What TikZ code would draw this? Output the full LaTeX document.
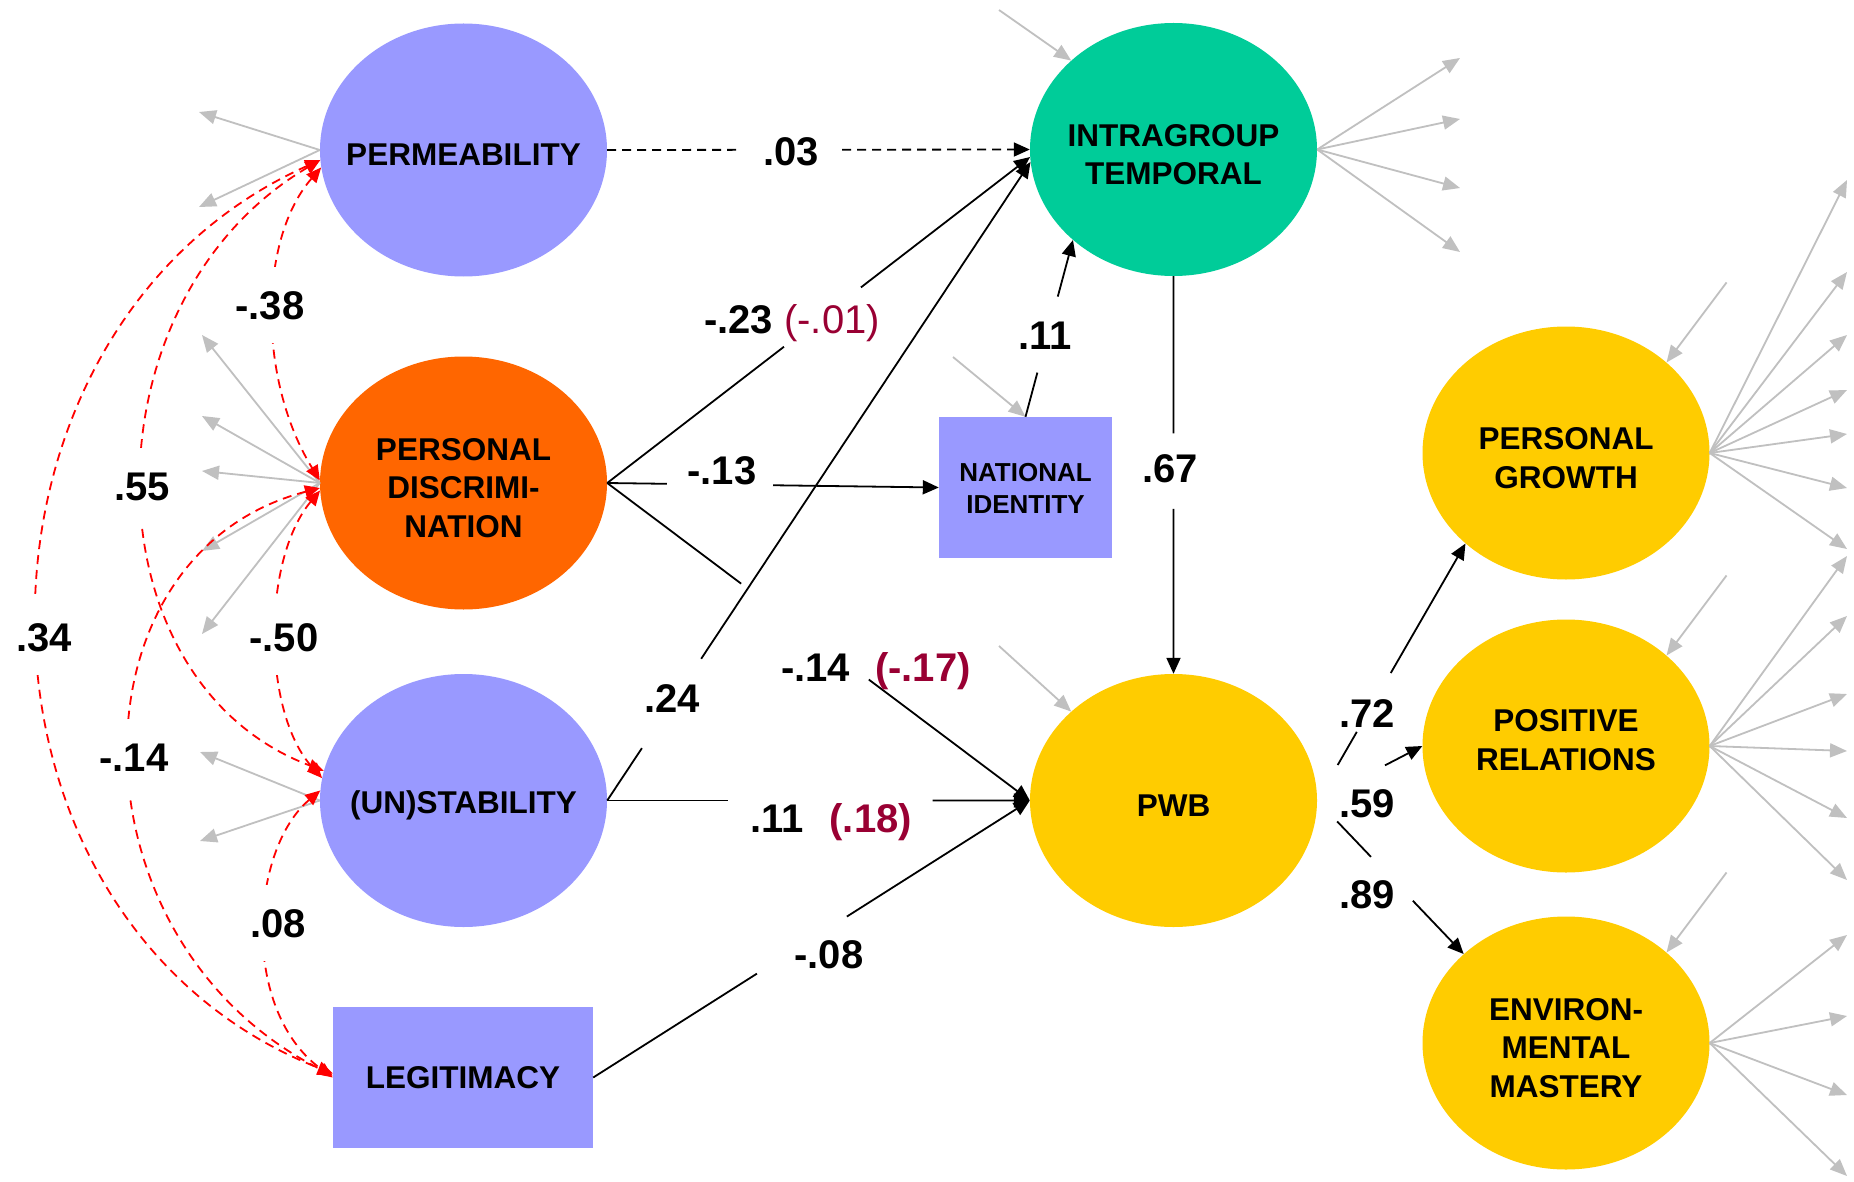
\documentclass[tikz,border=0pt]{standalone}
\usepackage{fontspec}
\setmainfont{Liberation Sans}
\usetikzlibrary{arrows.meta,calc,shapes.geometric}

\definecolor{lilac}{RGB}{153,153,255}
\definecolor{discorange}{RGB}{255,102,0}
\definecolor{mint}{RGB}{0,204,153}
\definecolor{amber}{RGB}{255,204,0}
\definecolor{wine}{RGB}{153,0,51}
\definecolor{errgray}{RGB}{192,192,192}
\definecolor{covred}{RGB}{255,0,0}

\begin{document}
\begin{tikzpicture}[x=1pt, y=-1pt,
  latent/.style={ellipse, minimum width=287pt, minimum height=253pt, inner sep=0pt},
  manifest/.style={rectangle, inner sep=0pt},
  vname/.style={font=\fontsize{31.5}{38.5}\selectfont\bfseries, align=center, yshift=-5pt},
  coef/.style={font=\fontsize{40}{48}\selectfont\bfseries, anchor=base, inner sep=0pt},
  covlabel/.style={coef, fill=white, inner xsep=3pt, inner ysep=24pt},
  effect/.style={line width=1.8pt},
  effarrow/.style={effect, -{Triangle[length=16pt,width=14pt]}},
  brk/.style={dash pattern=on 9pt off 6pt},
  resid/.style={errgray, line width=1.8pt, -{Triangle[length=17pt,width=14pt]}},
  cov/.style={covred, line width=1.8pt, dash pattern=on 9pt off 6pt,
    {Triangle[length=15pt,width=13pt]}-{Triangle[length=15pt,width=13pt]}},
]
\path[use as bounding box, fill=white] (0,0) rectangle (1854,1182);

% ---------- variables ----------
\node[latent, fill=lilac, label={[vname]center:PERMEABILITY}] (perm) at (463.5,150) {};
\node[latent, fill=discorange, label={[vname]center:{PERSONAL\\DISCRIMI-\\NATION}}] (pd) at (463.5,483) {};
\node[latent, fill=lilac, label={[vname]center:{(UN)STABILITY}}] (unst) at (463.5,800.5) {};
\node[manifest, fill=lilac, minimum width=260pt, minimum height=141pt,
      label={[vname, yshift=5pt]center:LEGITIMACY}] (leg) at (463,1077.5) {};
\node[latent, fill=mint, label={[vname]center:{INTRAGROUP\\TEMPORAL}}] (it) at (1173.5,149.5) {};
\node[manifest, fill=lilac, minimum width=173pt, minimum height=141pt,
      label={[vname, font=\fontsize{26}{32}\selectfont\bfseries, yshift=4pt]center:{NATIONAL\\IDENTITY}}] (ni) at (1025.5,487.5) {};
\node[latent, fill=amber, label={[vname]center:PWB}] (pwb) at (1173.5,800.5) {};
\node[latent, fill=amber, label={[vname]center:{PERSONAL\\GROWTH}}] (pg) at (1566,453) {};
\node[latent, fill=amber, label={[vname, yshift=11pt]center:{POSITIVE\\RELATIONS}}] (pr) at (1566,746) {};
\node[latent, fill=amber, label={[vname]center:{ENVIRON-\\MENTAL\\MASTERY}}] (em) at (1566,1043) {};

% ---------- residual / indicator arrows ----------
\foreach \y [count=\k] in {112,207} {
  \coordinate (perm-e\k) at (199,\y); \draw[resid] (perm.west) -- (perm-e\k);}
\foreach \y [count=\k] in {335,416,471,551,634} {
  \coordinate (pd-e\k) at (202,\y); \draw[resid] (pd.west) -- (pd-e\k);}
\foreach \y [count=\k] in {752,841} {
  \coordinate (unst-e\k) at (200,\y); \draw[resid] (unst.west) -- (unst-e\k);}
\foreach \y [count=\k] in {58,119,188,252} {
  \coordinate (it-e\k) at (1460,\y); \draw[resid] (it.east) -- (it-e\k);}
\foreach \y [count=\k] in {180,272,335,390,434,488,549} {
  \coordinate (pg-e\k) at (1847,\y); \draw[resid] (pg.east) -- (pg-e\k);}
\foreach \y [count=\k] in {556,616,694,751,818,880} {
  \coordinate (pr-e\k) at (1847,\y); \draw[resid] (pr.east) -- (pr-e\k);}
\foreach \y [count=\k] in {935,1016,1095,1176} {
  \coordinate (em-e\k) at (1847,\y); \draw[resid] (em.east) -- (em-e\k);}

\coordinate (it-d) at (999,10);    \draw[resid] (it-d) -- (it.139);
\coordinate (ni-d) at (953,357);   \draw[resid] (ni-d) -- (ni.north);
\coordinate (pwb-d) at (999,646);  \draw[resid] (pwb-d) -- (pwb.139);
\coordinate (pg-d) at ($(pg.42)+(60,-80)$); \draw[resid] (pg-d) -- (pg.42);
\coordinate (pr-d) at ($(pr.42)+(60,-80)$); \draw[resid] (pr-d) -- (pr.42);
\coordinate (em-d) at ($(em.42)+(60,-80)$); \draw[resid] (em-d) -- (em.42);

% ---------- covariances ----------
\draw[cov] (perm.187) .. controls (258,240) and (258,380) .. (pd.179);
\draw[cov] (perm.184) .. controls (83,300) and (83,680) .. (unst.168);
\draw[cov] (perm.184) .. controls (-58,330) and (-58,920) .. ([yshift=4pt]leg.west);
\draw[cov] (pd.183) .. controls (262,560) and (262,712) .. (unst.171);
\draw[cov] (pd.182) .. controls (65,554) and (65,940) .. ([yshift=2pt]leg.west);
\draw[cov] (unst.176) .. controls (250,850) and (240,1010) .. (leg.west);

\node[covlabel] (r-perm-pd)   at (270,319) {-.38};
\node[covlabel] (r-perm-unst) at (142,500) {.55};
\node[covlabel] (r-perm-leg)  at (44,651)  {.34};
\node[covlabel] (r-pd-unst)   at (284,651) {-.50};
\node[covlabel] (r-pd-leg)    at (134,771) {-.14};
\node[covlabel] (r-unst-leg)  at (278,937) {.08};

% ---------- structural paths ----------
\draw[effect, brk] (perm.east) -- ($(perm.east)!0.31!(it.west)$);
\draw[effarrow, brk] ($(perm.east)!0.556!(it.west)$) -- (it.west);

\draw[effect] (pd.east) -- ($(pd.east)!0.418!(it.183)$);
\draw[effarrow] ($(pd.east)!0.6!(it.183)$) -- (it.183);

\draw[effect] (unst.east) -- ($(unst.east)!0.082!(it.185)$);
\draw[effarrow] ($(unst.east)!0.222!(it.185)$) -- (it.185);

\draw[effect] (pd.east) -- ($(pd.east)!0.18!(ni.west)$);
\draw[effarrow] ($(pd.east)!0.5!(ni.west)$) -- (ni.west);

\draw[effect] (pd.east) -- ($(pd.east)!0.317!(pwb.west)$);
\draw[effarrow] ($(pd.east)!0.619!(pwb.west)$) -- (pwb.west);

\draw[effect] (unst.east) -- ($(unst.east)!0.285!(pwb.west)$);
\draw[effarrow] ($(unst.east)!0.77!(pwb.west)$) -- (pwb.west);

\draw[effect] (leg.east) -- ($(leg.east)!0.375!(pwb.west)$);
\draw[effarrow] ($(leg.east)!0.581!(pwb.west)$) -- (pwb.west);

\draw[effect] (ni.north) -- ($(ni.north)!0.25!(it.222)$);
\draw[effarrow] ($(ni.north)!0.68!(it.222)$) -- (it.222);

\draw[effect] (it.south) -- ($(it.south)!0.395!(pwb.north)$);
\draw[effarrow] ($(it.south)!0.585!(pwb.north)$) -- (pwb.north);

\draw[effect] ($(pwb.east)!0.138!(pg.222)$) -- ($(pwb.east)!0.267!(pg.222)$);
\draw[effarrow] ($(pwb.east)!0.496!(pg.222)$) -- (pg.222);
\draw[effarrow] ($(pwb.east)!0.645!(pr.west)$) -- (pr.west);
\draw[effect] ($(pwb.east)!0.136!(em.139)$) -- ($(pwb.east)!0.367!(em.139)$);
\draw[effarrow] ($(pwb.east)!0.653!(em.139)$) -- (em.139);

% ---------- path coefficients ----------
\node[coef] (c-perm-it)  at (791,166)  {.03};
\node[coef] (c-pd-it)    at (792,333)  {-.23 {\mdseries\color{wine}(-.01)}};
\node[coef] (c-ni-it)    at (1045,349) {.11};
\node[coef] (c-pd-ni)    at (722,484)  {-.13};
\node[coef] (c-it-pwb)   at (1170,482) {.67};
\node[coef] (c-unst-it)  at (672,712)  {.24};
\node[coef] (c-pd-pwb)   at (876,681)  {-.14\hspace{25pt}{\color{wine}(-.17)}};
\node[coef] (c-unst-pwb) at (831,832)  {.11\hspace{26pt}{\color{wine}(.18)}};
\node[coef] (c-leg-pwb)  at (829,968)  {-.08};
\node[coef] (c-pg)       at (1367,727) {.72};
\node[coef] (c-pr)       at (1367,817) {.59};
\node[coef] (c-em)       at (1367,908) {.89};
\end{tikzpicture}
\end{document}
